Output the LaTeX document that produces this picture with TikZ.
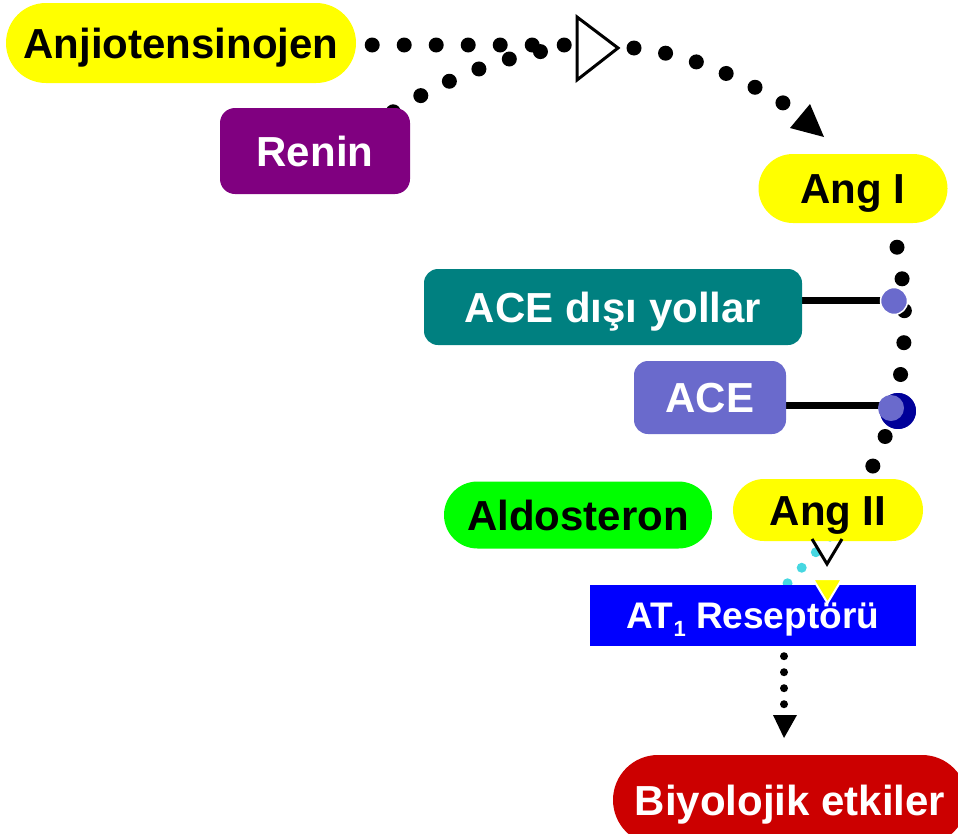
\documentclass[tikz,border=0pt]{standalone}
\usepackage{fontspec}
\setmainfont{Liberation Sans}
\usetikzlibrary{calc}
\pgfdeclarelayer{bg}
\pgfsetlayers{bg,main}
\definecolor{pillyellow}{RGB}{255,255,0}
\definecolor{reninpurple}{RGB}{128,0,128}
\definecolor{pathteal}{RGB}{0,128,128}
\definecolor{acelav}{RGB}{106,106,204}
\definecolor{aldogreen}{RGB}{0,255,0}
\definecolor{recblue}{RGB}{0,0,255}
\definecolor{effectred}{RGB}{204,0,0}
\definecolor{acenavy}{RGB}{0,0,153}
\definecolor{dotcyan}{RGB}{70,215,225}
\begin{document}
\begin{tikzpicture}[x=1pt,y=-1pt,
  lbl/.style={inner sep=0pt, font=\bfseries\fontsize{42}{42}\selectfont,
    text height=30pt, text depth=0pt, align=center},
  bigdots/.style={line width=15pt, line cap=round, dash pattern=on 0pt off 32pt},
  smalldots/.style={line width=8pt, line cap=round, dash pattern=on 0pt off 16pt},
  cyandots/.style={line width=10pt, line cap=round, dash pattern=on 0pt off 21pt, draw=dotcyan},
  bar/.style={line width=7pt},
  knob/.style={circle, inner sep=0pt}]
\useasboundingbox (0,0) rectangle (958,833);
\clip (0,0) rectangle (958,833);

% boxes
\node[lbl, fill=pillyellow, minimum width=350pt, minimum height=80pt, rounded corners=40pt] (anj) at (181,43) {Anjiotensinojen};
\node[lbl, fill=reninpurple, text=white, minimum width=190pt, minimum height=86pt, rounded corners=15pt] (renin) at (315,151) {Renin};
\node[lbl, fill=pillyellow, minimum width=189pt, minimum height=69pt, rounded corners=34.5pt] (angi) at (853,188.5) {Ang I};
\node[lbl, fill=pathteal, text=white, minimum width=378pt, minimum height=76pt, rounded corners=14pt] (nonace) at (613,307) {ACE dışı yollar};
\node[lbl, fill=acelav, text=white, minimum width=152pt, minimum height=73pt, rounded corners=14pt] (ace) at (710,397.5) {ACE};
\node[lbl, fill=aldogreen, minimum width=268pt, minimum height=67pt, rounded corners=33.5pt] (aldo) at (578,515) {Aldosteron};
\node[lbl, fill=pillyellow, minimum width=190pt, minimum height=62pt, rounded corners=31pt] (angii) at (828,510) {Ang II};
\node[lbl, fill=recblue, text=white, minimum width=326pt, minimum height=61pt,
  font=\bfseries\fontsize{37}{37}\selectfont, text height=26.5pt] (at1) at (753,615.5)
  {AT\raisebox{-0.22em}{\fontsize{22}{22}\selectfont 1} Reseptörü};
\node[lbl, fill=effectred, text=white, minimum width=354pt, minimum height=90pt, rounded corners=45pt] (bio) at (790,800) {Biyolojik etkiler};

% path coordinates
\coordinate (mainStart) at ($(anj.east)+(16,2)$);
\coordinate (mainEnd) at (564.5,45);
\coordinate (reninStart) at ($(renin.north east)+(-17,4)$);
\coordinate (join) at (572,47);
\coordinate (arcStart) at (634,48);
\coordinate (arcEnd) at (784,103.5);
\coordinate (convStart) at ($(angi.south)+(44,24)$);
\coordinate (convEnd) at ($(angii.north)+(44,-11)$);

\begin{pgfonlayer}{bg}
  \draw[bigdots] (mainStart) -- (mainEnd);
  \draw[bigdots] (reninStart) .. controls (452.5,74.5) and (512.9,52.8) .. (join);
  \draw[bigdots] (arcStart) .. controls (680,52.6) and (729.7,71) .. (arcEnd);
  \draw[bigdots] (convStart) .. controls (912,320) and (905,400) .. (convEnd);
  \draw[bar] (nonace.east |- 0,300) -- (884,300);
  \draw[bar] (ace.east |- 0,405) -- (884,405);
  \draw[cyandots] ($(angii.south)+(2,-4.5)$) -- ($(at1.north)+(34.5,-1.5)$);
  \draw[smalldots] ($(at1.south)+(31,10)$) -- ($(at1.south)+(31,58.5)$);
\end{pgfonlayer}

% enzyme end markers
\node[knob, fill=acelav, draw=white, line width=1.5pt, minimum size=27pt] (nonaceEnd) at (894,301) {};
\node[knob, fill=acenavy, draw=white, line width=1.5pt, minimum size=38pt] (aceEnd) at (898,411) {};
\node[knob, fill=acelav, minimum size=26pt] (aceInner) at (891,408) {};

% arrowheads
\draw[line width=3pt, fill=white, line join=miter] (577,17) -- (618,48) -- (577,80) -- cycle;
\fill (790,128) -- (824,137) -- (810,104) -- cycle;
\draw[line width=3pt, line join=miter] (812,539) -- (827,564) -- (842,539);
\filldraw[fill=pillyellow, draw=white, line width=2pt, line join=miter] (813,579) -- (842,579) -- (827.5,603) -- cycle;
\fill (773,715) -- (797,715) -- (784,738) -- cycle;
\end{tikzpicture}
\end{document}
